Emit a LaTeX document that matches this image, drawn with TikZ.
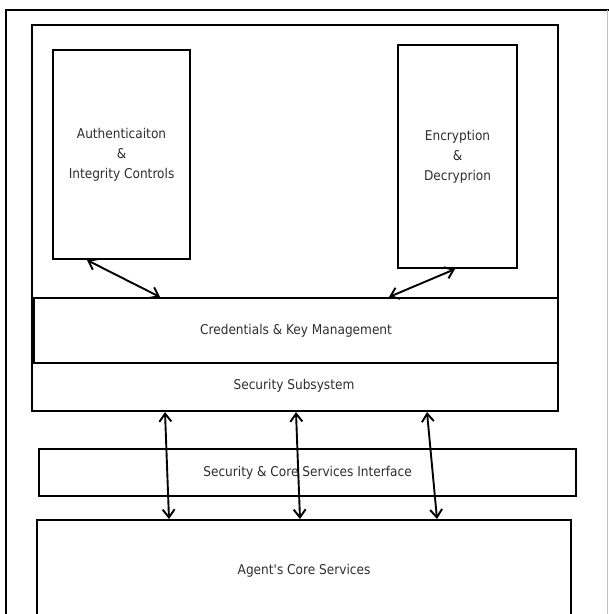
\documentclass[tikz,border=0pt]{standalone}
\usepackage{fontspec}
\setmainfont[Ligatures=TeXOff]{DejaVu Sans Condensed}
\usetikzlibrary{arrows.meta,calc}
\begin{document}
\begin{tikzpicture}[x=1pt,y=-1pt,
  box/.style={draw, line width=2.1pt, inner sep=0pt, anchor=north west},
  lbl/.style={font=\fontsize{13.5}{20}\selectfont, align=center, text=black!82},
  link/.style={line width=1.9pt, {Straight Barb[length=8pt,width=12pt]}-{Straight Barb[length=8pt,width=12pt]}},
]
\useasboundingbox (0,0) rectangle (609,614);
\clip (0,0) rectangle (609,614);
% outer frame
\draw[line width=2.1pt] (6,640) -- (6,10) -- (612,10);
\draw[line width=0.6pt, black!25] (607,10) -- (607,640);
% main subsystem box
\node[box, minimum width=526pt, minimum height=386pt] (secsub) at (31,24) {};
\node[box, minimum width=137pt, minimum height=209pt, lbl] (auth) at (52,49)
  {Authenticaiton\\\&\\Integrity Controls};
\node[box, minimum width=119pt, minimum height=223pt, lbl] (enc) at (397,44)
  {Encryption\\\&\\Decryprion};
\node[box, minimum width=524pt, minimum height=65pt, lbl] (cred) at (33,297)
  {\raisebox{-4pt}{Credentials \& Key Management}};
\node[lbl] (secsubtitle) at (294,386) {Security Subsystem};
\node[box, minimum width=537pt, minimum height=47pt, lbl] (iface) at (38,448)
  {Security \& Core Services Interface};
\node[box, minimum width=534pt, minimum height=102pt, lbl] (agent) at (36,519)
  {Agent's Core Services};
% connectors
\draw[link] ([xshift=35pt]auth.south west) -- ([xshift=127pt]cred.north west);
\draw[link] ([xshift=58pt]enc.south west) -- ([xshift=356pt]cred.north west);
\draw[link] ([xshift=134pt]secsub.south west) -- ([xshift=133pt]agent.north west);
\draw[link] ([xshift=265pt]secsub.south west) -- ([xshift=264pt]agent.north west);
\draw[link] ([xshift=396pt]secsub.south west) -- ([xshift=401pt]agent.north west);
\end{tikzpicture}
\end{document}
